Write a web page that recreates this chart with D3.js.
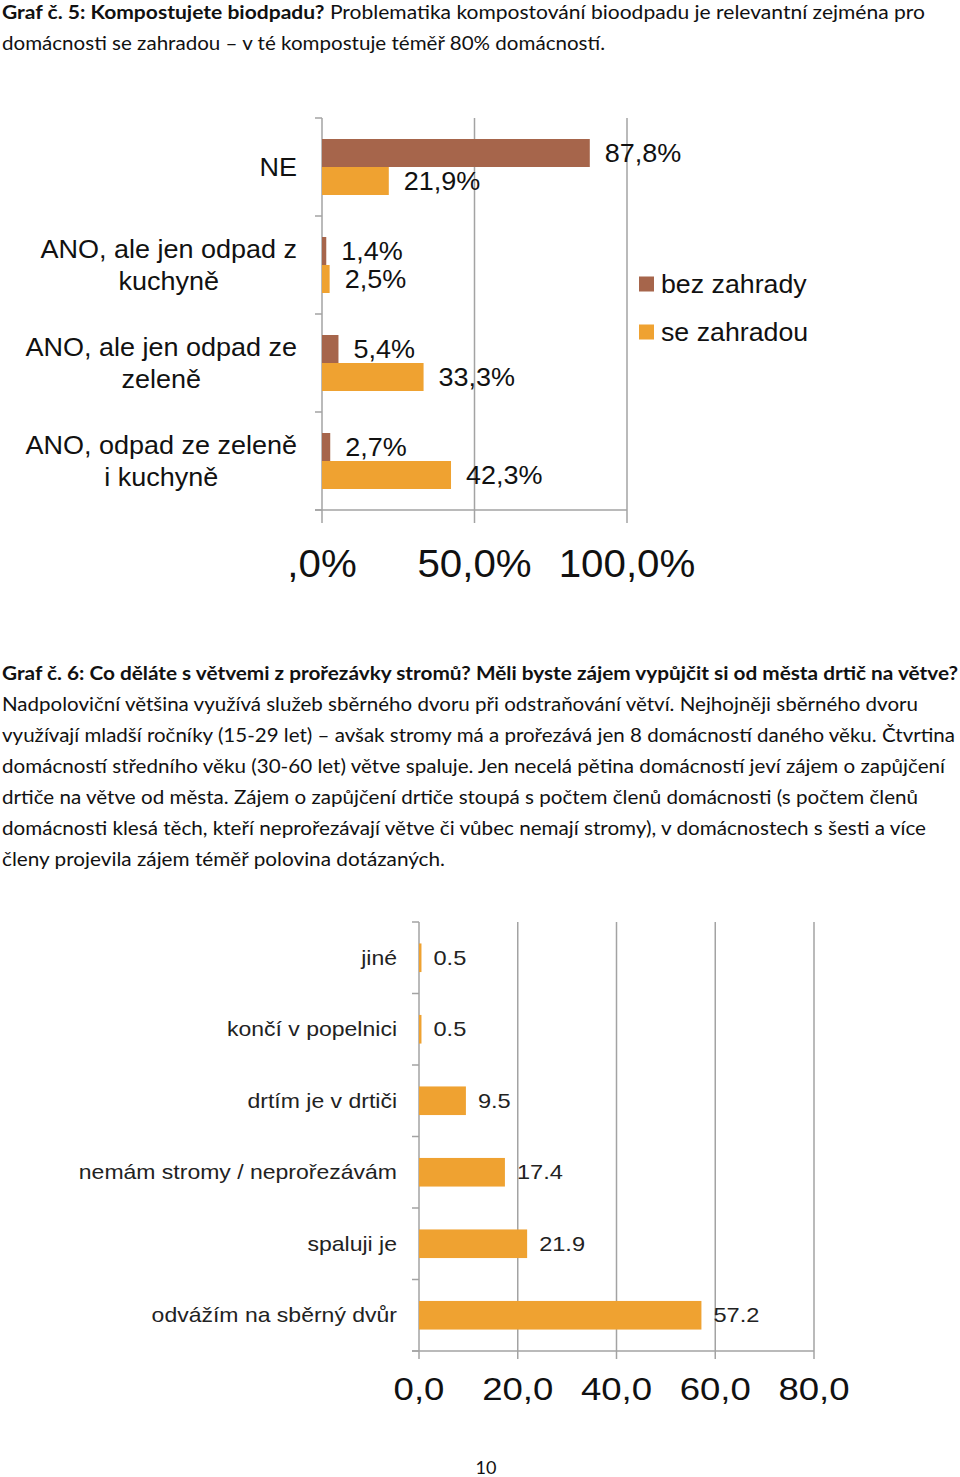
<!DOCTYPE html>
<html><head><meta charset="utf-8">
<script src="https://cdn.jsdelivr.net/npm/d3@7"></script>
<style>html,body{margin:0;padding:0;background:#fff;}svg{display:block;}</style>
</head><body>
<script>
// ---- Data ----
const cats1 = ["NE", "ANO, ale jen odpad z kuchyně", "ANO, ale jen odpad ze zeleně", "ANO, odpad ze zeleně i kuchyně"];
const labelLines1 = [["NE"], ["ANO, ale jen odpad z", "kuchyně"], ["ANO, ale jen odpad ze", "zeleně"], ["ANO, odpad ze zeleně", "i kuchyně"]];
const series1 = ["bez zahrady", "se zahradou"];
const bezZahrady = [87.8, 1.4, 5.4, 2.7];
const seZahradou = [21.9, 2.5, 33.3, 42.3];
const ticks1 = [0, 50, 100];
const tickLabels1 = [",0%", "50,0%", "100,0%"];

const cats2 = ["jiné", "končí v popelnici", "drtím je v drtiči", "nemám stromy / neprořezávám", "spaluji je", "odvážím na sběrný dvůr"];
const values2 = [0.5, 0.5, 9.5, 17.4, 21.9, 57.2];
const ticks2 = [0, 20, 40, 60, 80];
const tickLabels2 = ["0,0", "20,0", "40,0", "60,0", "80,0"];

const para1 = [
  [["b", "Graf č. 5: Kompostujete biodpadu?"], ["r", " Problematika kompostování bioodpadu je relevantní zejména pro"]],
  [["r", "domácnosti se zahradou – v té kompostuje téměř 80% domácností."]]
];
const para2 = [
  [["b", "Graf č. 6: Co děláte s větvemi z prořezávky stromů? Měli byste zájem vypůjčit si od města drtič na větve?"]],
  [["r", "Nadpoloviční většina využívá služeb sběrného dvoru při odstraňování větví. Nejhojněji sběrného dvoru"]],
  [["r", "využívají mladší ročníky (15-29 let) – avšak stromy má a prořezává jen 8 domácností daného věku. Čtvrtina"]],
  [["r", "domácností středního věku (30-60 let) větve spaluje. Jen necelá pětina domácností jeví zájem o zapůjčení"]],
  [["r", "drtiče na větve od města. Zájem o zapůjčení drtiče stoupá s počtem členů domácnosti (s počtem členů"]],
  [["r", "domácnosti klesá těch, kteří neprořezávají větve či vůbec nemají stromy), v domácnostech s šesti a více"]],
  [["r", "členy projevila zájem téměř polovina dotázaných."]]
];
const para1Ends = [925, 605];
const para2Ends = [958, 918, 955, 945, 918, 926, 445];

// ---- Setup ----
const W = 960, H = 1477;
const svg = d3.select("body").append("svg").attr("width", W).attr("height", H);
svg.append("rect").attr("width", W).attr("height", H).attr("fill", "#fff");

const BROWN = "#a6654b", ORANGE = "#efa231", GRID = "#a3a3a3";
const CHART_FONT = "'Liberation Sans', Arial, sans-serif";
const BODY_FONT = "Lato, 'Open Sans', sans-serif";

// body text helper
function paragraph(lines, ends, y0, lh) {
  lines.forEach((parts, i) => {
    const t = svg.append("text")
      .attr("x", 2).attr("y", y0 + i * lh)
      .attr("font-family", BODY_FONT).attr("font-size", 19.5).attr("fill", "#111")
      .attr("textLength", ends[i] - 2).attr("lengthAdjust", "spacingAndGlyphs");
    parts.forEach(p => {
      t.append("tspan").attr("font-weight", p[0] === "b" ? 700 : 400).text(p[1]);
    });
  });
}
paragraph(para1, para1Ends, 19, 31);
paragraph(para2, para2Ends, 680, 31);

// scaled text helper
function stext(parent, x, y, txt, opts) {
  const g = parent.append("g").attr("transform", `translate(${x},${y}) scale(${opts.sx || 1},1)`);
  const t = g.append("text").attr("x", 0).attr("y", 0)
    .attr("font-family", CHART_FONT).attr("font-size", opts.size)
    .attr("fill", opts.fill || "#111")
    .attr("text-anchor", opts.anchor || "start")
    .attr("dy", "0.36em")
    .text(txt);
  return t;
}

// ---- Chart 1 ----
const c1 = svg.append("g");
const x1 = d3.scaleLinear().domain([0, 100]).range([322, 627]);
const y1 = d3.scaleBand().domain(cats1).range([118, 510]);
const ys1 = d3.scaleBand().domain(series1).range([0, y1.bandwidth()]).paddingInner(0).paddingOuter(0.75);
const data1 = cats1.map((c, i) => ({ cat: c, vals: [bezZahrady[i], seZahradou[i]] }));
const colors1 = [BROWN, ORANGE];

// gridlines (including axis at 0)
ticks1.forEach(t => {
  c1.append("line").attr("x1", x1(t)).attr("x2", x1(t)).attr("y1", 118).attr("y2", 523)
    .attr("stroke", GRID).attr("stroke-width", 1.5);
});
// horizontal axis line
c1.append("line").attr("x1", 315).attr("x2", x1(100)).attr("y1", 510).attr("y2", 510)
  .attr("stroke", GRID).attr("stroke-width", 1.5);
// category ticks
cats1.concat([null]).forEach((c, i) => {
  const yy = c ? y1(c) : y1.range()[1];
  c1.append("line").attr("x1", 315).attr("x2", 322).attr("y1", yy).attr("y2", yy)
    .attr("stroke", GRID).attr("stroke-width", 1.5);
});
// bars + labels
data1.forEach(d => {
  d.vals.forEach((v, j) => {
    const yy = y1(d.cat) + ys1(series1[j]);
    c1.append("rect").attr("x", x1(0)).attr("y", yy)
      .attr("width", x1(v) - x1(0)).attr("height", ys1.bandwidth()).attr("fill", colors1[j]);
    stext(c1, x1(v) + 15, yy + ys1.bandwidth() / 2, v.toFixed(1).replace(".", ",") + "%", { size: 25, sx: 1.08 });
  });
});
// category labels (right-aligned block, lines centered)
labelLines1.forEach((lines, i) => {
  const cy = y1(cats1[i]) + y1.bandwidth() / 2;
  const lh = 33;
  const g = c1.append("g").attr("transform", `translate(297,${cy}) scale(1.08,1)`);
  const ts = lines.map((ln, k) => g.append("text")
    .attr("font-family", CHART_FONT).attr("font-size", 25).attr("fill", "#111")
    .attr("text-anchor", "middle").attr("dy", "0.36em")
    .attr("y", (k - (lines.length - 1) / 2) * lh).text(ln));
  const maxW = d3.max(ts, t => t.node().getComputedTextLength());
  ts.forEach(t => t.attr("x", -maxW / 2));
});
// axis tick labels
ticks1.forEach((t, i) => {
  stext(c1, x1(t), 563, tickLabels1[i], { size: 38, sx: 1.06, anchor: "middle" });
});
// legend
series1.forEach((s, j) => {
  const ly = 284 + j * 48;
  c1.append("rect").attr("x", 639).attr("y", ly - 7.5).attr("width", 15).attr("height", 15).attr("fill", colors1[j]);
  stext(c1, 661, ly, s, { size: 25, sx: 1.07 });
});

// ---- Chart 2 ----
const c2 = svg.append("g");
const x2 = d3.scaleLinear().domain([0, 80]).range([419, 814]);
const y2 = d3.scaleBand().domain(cats2).range([922, 1351]).paddingInner(0.6).paddingOuter(0.3);
const step2 = y2.step();
ticks2.forEach(t => {
  c2.append("line").attr("x1", x2(t)).attr("x2", x2(t)).attr("y1", 922).attr("y2", 1359)
    .attr("stroke", GRID).attr("stroke-width", 1.5);
});
c2.append("line").attr("x1", 412).attr("x2", x2(80)).attr("y1", 1351).attr("y2", 1351)
  .attr("stroke", GRID).attr("stroke-width", 1.5);
for (let i = 0; i <= cats2.length; i++) {
  const yy = 922 + i * (1351 - 922) / cats2.length;
  c2.append("line").attr("x1", 412).attr("x2", 419).attr("y1", yy).attr("y2", yy)
    .attr("stroke", GRID).attr("stroke-width", 1.5);
}
cats2.forEach((c, i) => {
  const v = values2[i];
  const yy = y2(c);
  const cy = yy + y2.bandwidth() / 2;
  c2.append("rect").attr("x", x2(0)).attr("y", yy).attr("width", x2(v) - x2(0))
    .attr("height", y2.bandwidth()).attr("fill", ORANGE);
  stext(c2, x2(v) + 12, cy, v.toFixed(1), { size: 20, sx: 1.18, fill: "#222" });
  stext(c2, 397, cy, c, { size: 20, sx: 1.15, fill: "#222", anchor: "end" });
});
ticks2.forEach((t, i) => {
  stext(c2, x2(t), 1389, tickLabels2[i], { size: 31, sx: 1.18, fill: "#111", anchor: "middle" });
});

// page number
svg.append("text").attr("x", 486).attr("y", 1474).attr("text-anchor", "middle")
  .attr("font-family", BODY_FONT).attr("font-size", 18).attr("fill", "#111").text("10");
</script>
</body></html>
